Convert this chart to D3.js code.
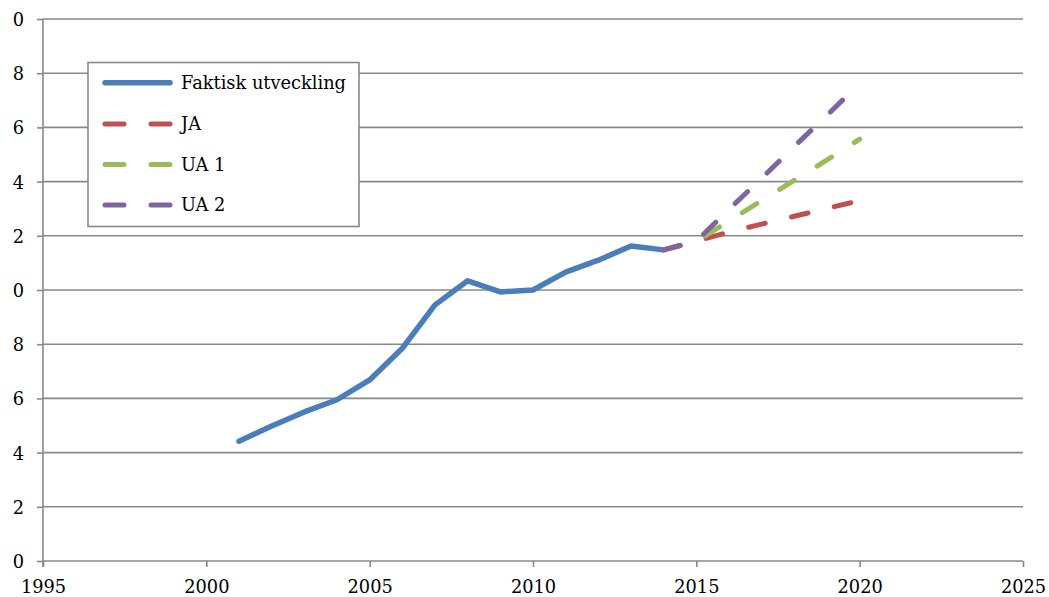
<!DOCTYPE html>
<html>
<head>
<meta charset="utf-8">
<script src="https://cdn.jsdelivr.net/npm/d3@7"></script>
<style>
  html, body { margin: 0; padding: 0; background: #fff; }
  svg { display: block; }
  svg text { font-family: "DejaVu Serif", serif; }
</style>
</head>
<body>
<svg id="chart" width="1049" height="597"></svg>
<script>
// Actual development, 2001–2014
const actualYears = [2001, 2002, 2003, 2004, 2005, 2006, 2007, 2008, 2009, 2010, 2011, 2012, 2013, 2014];
const actualValues = [4.42, 4.98, 5.5, 5.95, 6.68, 7.85, 9.45, 10.34, 9.93, 10.0, 10.66, 11.1, 11.62, 11.48];

// Scenario projections, 2014–2020
const scenarioYears = [2014, 2015, 2016, 2017, 2018, 2019, 2020];
const jaValues  = [11.48, 11.8, 12.14, 12.43, 12.72, 13.01, 13.3];
const ua1Values = [11.48, 11.8, 12.55, 13.3, 14.05, 14.8, 15.57];
const ua2Values = [11.48, 11.8, 12.98, 14.12, 15.3, 16.45, 17.62];

const seriesNames = ["Faktisk utveckling", "JA", "UA 1", "UA 2"];
const seriesColors = ["#4a7ebb", "#c0504d", "#9bbb59", "#8064a2"];

const xTicks = [1995, 2000, 2005, 2010, 2015, 2020, 2025];
const yTicks = [0, 2, 4, 6, 8, 10, 12, 14, 16, 18, 20];

const svg = d3.select("#chart");
const plotLeft = 43, plotRight = 1023, plotTop = 19, plotBottom = 561;
const fontSize = 17.8;

const x = d3.scaleLinear().domain([1995, 2025]).range([plotLeft, plotRight]);
const y = d3.scaleLinear().domain([0, 20]).range([plotBottom, plotTop]);

const gridColor = "#898989";

// Horizontal gridlines
svg.append("g")
  .selectAll("line")
  .data(yTicks.filter(d => d > 0))
  .join("line")
  .attr("x1", plotLeft).attr("x2", plotRight)
  .attr("y1", d => y(d)).attr("y2", d => y(d))
  .attr("stroke", gridColor).attr("stroke-width", 1.6);

// Y axis (labels show the last digit only)
const yAxis = svg.append("g")
  .attr("transform", `translate(${plotLeft},0)`)
  .call(d3.axisLeft(y).tickValues(yTicks).tickFormat(d => String(d % 10)).tickSize(6).tickPadding(13));
yAxis.attr("font-family", null);
yAxis.select(".domain").attr("stroke", gridColor).attr("stroke-width", 1.6)
  .attr("d", `M0,${plotTop}V${plotBottom + 6}`);
yAxis.selectAll(".tick line").attr("stroke", gridColor).attr("stroke-width", 1.6);
yAxis.selectAll(".tick text").attr("font-size", fontSize).attr("fill", "#000").attr("dy", "0.36em");

// X axis
const xAxis = svg.append("g")
  .attr("transform", `translate(0,${plotBottom})`)
  .call(d3.axisBottom(x).tickValues(xTicks).tickFormat(d3.format("d")).tickSize(6).tickPadding(4));
xAxis.attr("font-family", null);
xAxis.select(".domain").attr("stroke", gridColor).attr("stroke-width", 1.6)
  .attr("d", `M${plotLeft},0H${plotRight}`);
xAxis.selectAll(".tick line").attr("stroke", gridColor).attr("stroke-width", 1.6);
xAxis.selectAll(".tick text").attr("font-size", fontSize).attr("fill", "#000").attr("dy", "1.22em");

const line = d3.line().x(d => x(d[0])).y(d => y(d[1]));
const dash = "17 27";

// Actual development
svg.append("path")
  .datum(d3.zip(actualYears, actualValues))
  .attr("d", line)
  .attr("fill", "none").attr("stroke", seriesColors[0])
  .attr("stroke-width", 5.5).attr("stroke-linejoin", "round").attr("stroke-linecap", "round");

// Scenarios
[jaValues, ua1Values, ua2Values].forEach((vals, i) => {
  svg.append("path")
    .datum(d3.zip(scenarioYears, vals))
    .attr("d", line)
    .attr("fill", "none").attr("stroke", seriesColors[i + 1])
    .attr("stroke-width", 5).attr("stroke-linejoin", "round").attr("stroke-linecap", "round")
    .attr("stroke-dasharray", dash);
});

// Legend
const legend = svg.append("g");
legend.append("rect")
  .attr("x", 88).attr("y", 62.5).attr("width", 271).attr("height", 164)
  .attr("fill", "#fff").attr("stroke", gridColor).attr("stroke-width", 1.6);

const rowY = [82.7, 124, 164.5, 205];
seriesNames.forEach((name, i) => {
  const g = legend.append("g");
  g.append("line")
    .attr("x1", 105).attr("x2", 170)
    .attr("y1", rowY[i]).attr("y2", rowY[i])
    .attr("stroke", seriesColors[i])
    .attr("stroke-width", i === 0 ? 5.5 : 5)
    .attr("stroke-linecap", "round")
    .attr("stroke-dasharray", i === 0 ? null : "19 27");
  g.append("text")
    .attr("x", 181).attr("y", rowY[i]).attr("dy", "0.36em")
    .attr("font-size", fontSize).attr("fill", "#000")
    .text(name);
});
</script>
</body>
</html>
